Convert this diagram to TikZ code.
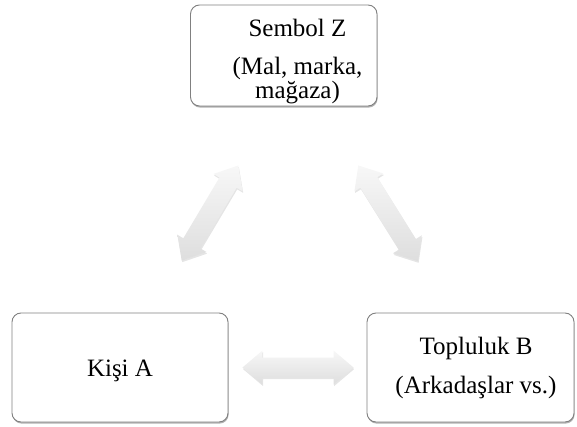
\documentclass[tikz,border=0pt]{standalone}
\usepackage{fontspec}
\setmainfont{Liberation Serif}
\usetikzlibrary{calc,shadows}

\tikzset{
  card/.style={draw=black!50, line width=0.9pt, rounded corners=9pt, fill=white,
    drop shadow={shadow xshift=0.6pt, shadow yshift=-1.6pt, opacity=0.30, fill=black}},
  lbl/.style={align=center, inner sep=0pt, font=\fontsize{25pt}{21.5pt}\selectfont},
  blockarrow/.style={draw=none, top color=gray!6, bottom color=gray!26,
    drop shadow={shadow xshift=0.6pt, shadow yshift=-1.6pt, opacity=0.10, fill=black}}
}

% double-headed block arrow between two named tips
\newcommand{\dblblock}[2]{%
  \coordinate (#1h) at ($(#1)!20pt!(#2)$);
  \coordinate (#2h) at ($(#2)!20pt!(#1)$);
  \path[blockarrow] (#1)
    -- ($(#1h)!17pt!90:(#2)$) -- ($(#1h)!10pt!90:(#2)$)
    -- ($(#2h)!10pt!-90:(#1)$) -- ($(#2h)!17pt!-90:(#1)$)
    -- (#2)
    -- ($(#2h)!17pt!90:(#1)$) -- ($(#2h)!10pt!90:(#1)$)
    -- ($(#1h)!10pt!-90:(#2)$) -- ($(#1h)!17pt!-90:(#2)$)
    -- cycle;
}

\begin{document}
\begin{tikzpicture}[x=1pt, y=-1pt]
  \useasboundingbox (0,0) rectangle (577,427);

  % boxes
  \node[card, minimum width=186.5pt, minimum height=101pt] (Zbox) at (283.75,55.5) {};
  \node[card, minimum width=216pt, minimum height=109pt] (Abox) at (120,367.5) {};
  \node[card, minimum width=207pt, minimum height=109pt] (Bbox) at (470.5,367.5) {};

  % box texts
  \node[lbl] (Z) at (297.5,61.3) {Sembol Z\\[17pt](Mal, marka,\\mağaza)};
  \node[lbl, anchor=base] (A) at (120,376) {Kişi A};
  \node[lbl] (B) at (476,367.9) {Topluluk B\\[15.5pt](Arkadaşlar vs.)};

  % arrow tips
  \coordinate (zl) at ($(Zbox.south)+(-45.5,59)$);
  \coordinate (al) at ($(Abox.north)+(61.7,-52)$);
  \coordinate (zr) at ($(Zbox.south)+(74.5,59)$);
  \coordinate (br) at ($(Bbox.north)+(-52.5,-51.3)$);
  \coordinate (ah) at ($(Abox.east)+(14,0)$);
  \coordinate (bh) at ($(Bbox.west)+(-13,0)$);

  % connectors
  \dblblock{al}{zl}
  \dblblock{zr}{br}
  \dblblock{ah}{bh}
\end{tikzpicture}
\end{document}
